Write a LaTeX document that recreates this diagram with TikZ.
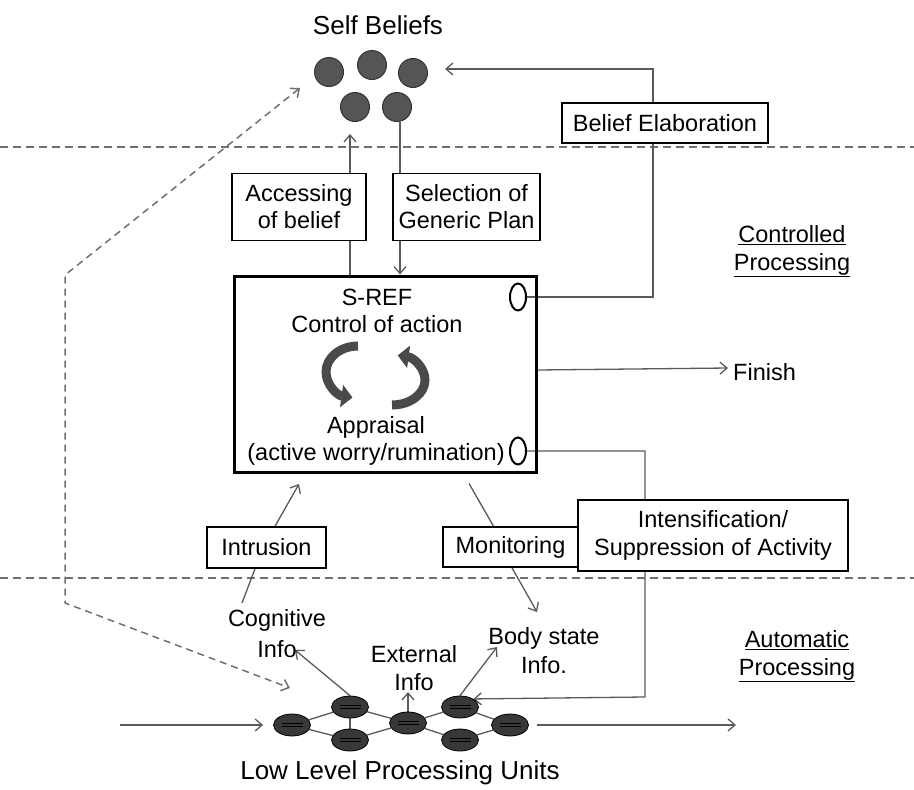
\documentclass[tikz,border=0pt]{standalone}
\usepackage{fontspec}
\setmainfont{Liberation Sans}
\usetikzlibrary{arrows.meta,shapes.geometric}
\pgfdeclarelayer{bg}
\pgfsetlayers{bg,main}
\definecolor{linegray}{HTML}{5A5A5A}
\definecolor{dashgray}{HTML}{707070}
\definecolor{ballfill}{HTML}{555555}
\definecolor{unitfill}{HTML}{383838}
\definecolor{cycgray}{HTML}{4A4A4A}
\tikzset{
 txt/.style={font=\fontsize{23.5}{27}\selectfont, inner sep=0pt, align=center},
 big/.style={font=\fontsize{26}{30}\selectfont},
 box/.style={txt, draw=black, line width=1.6pt, fill=white},
 conn/.style={draw=linegray, line width=1.3pt},
 arr/.style={conn, -{Straight Barb[length=7pt,width=12pt]}},
 dasharr/.style={draw=dashgray, line width=1.5pt, dash pattern=on 7pt off 5pt,
   {Straight Barb[length=7pt,width=12pt]}-{Straight Barb[length=7pt,width=12pt]}},
 sepline/.style={draw=dashgray, line width=1.2pt, dash pattern=on 8pt off 5pt},
 ball/.style={circle, minimum size=29pt, inner sep=0pt, fill=ballfill, draw=black!80, line width=1pt},
 unit/.style={ellipse, minimum width=37pt, minimum height=22pt, inner sep=0pt, fill=unitfill,
   draw=black, line width=0.8pt,
   path picture={
     \draw[black, line width=1pt] ([xshift=8pt,yshift=1.4pt]path picture bounding box.west) -- ([xshift=-8pt,yshift=1.4pt]path picture bounding box.east);
     \draw[black, line width=1pt] ([xshift=8pt,yshift=-1.4pt]path picture bounding box.west) -- ([xshift=-8pt,yshift=-1.4pt]path picture bounding box.east);
   }},
 port/.style={ellipse, minimum width=16pt, minimum height=27pt, inner sep=0pt, draw=black, line width=2pt, fill=white},
 cyc/.style={draw=cycgray, line width=9pt, -{Triangle[length=11pt,width=22pt]}},
}
\begin{document}
\begin{tikzpicture}[x=1pt,y=-1pt]
\useasboundingbox (0,0) rectangle (914,790);

% Self beliefs
\node[txt, big] (selfb) at (378,25) {Self Beliefs};
\node[ball] (b1) at (329,72) {};
\node[ball] (b2) at (372,65) {};
\node[ball] (b3) at (413,73) {};
\node[ball] (b4) at (355,107) {};
\node[ball] (b5) at (397,107) {};

% boxes
\node[box, minimum width=134pt, minimum height=67pt] (acc) at (299,207) {Accessing\\of belief};
\node[box, minimum width=147pt, minimum height=67pt] (sel) at (466.5,207) {Selection of\\Generic Plan};
\node[box, minimum width=206pt, minimum height=40pt] (bel) at (665,123) {Belief Elaboration};

% S-REF
\node[draw=black, line width=3pt, minimum width=302pt, minimum height=196pt, inner sep=0pt] (sref) at (385,374) {};
\node[txt] (ctrl) at (377,311) {S-REF\\Control of action};
\node[txt] (appr) at (376,441) {Appraisal\\(active worry/rumination)};
\node[port] (p1) at (518,297) {};
\node[port] (p2) at (518,451) {};
\draw[cyc] (358,346) arc[start angle=270, end angle=100, x radius=32, y radius=26];
\draw[cyc] (392,405) arc[start angle=90, end angle=-80, x radius=33, y radius=25];

\node[txt, anchor=west] (fin) at (733,372) {Finish};
\node[txt, font=\fontsize{23.5}{28}\selectfont] (cp) at (792,251) {\underline{Controlled}\\\underline{Processing}};
\node[txt, font=\fontsize{23.5}{28}\selectfont] (ap) at (797,656) {\underline{Automatic}\\\underline{Processing}};

\node[box, minimum width=119pt, minimum height=41pt] (intr) at (266.5,547.5) {Intrusion};
\node[box, minimum width=135pt, minimum height=40pt] (mon) at (510.5,547) {Monitoring};
\node[box, minimum width=270pt, minimum height=71pt, font=\fontsize{23.5}{28}\selectfont] (ints) at (713,535.5) {Intensification/\\Suppression of Activity};

\node[txt, font=\fontsize{23.5}{31}\selectfont] (cog) at (277,634) {Cognitive\\Info};
\node[txt, font=\fontsize{23.5}{28}\selectfont] (ext) at (414,668) {External\\Info};
\node[txt, font=\fontsize{23.5}{29}\selectfont] (body) at (544,651) {Body state\\Info.};

% low level units
\node[unit] (u1) at (292,725) {};
\node[unit] (u2) at (350,707) {};
\node[unit] (u3) at (350,740) {};
\node[unit] (u4) at (408,723) {};
\node[unit] (u5) at (460,707) {};
\node[unit] (u6) at (460,740) {};
\node[unit] (u7) at (510,725) {};
\node[txt, big] (llpu) at (400,773) {Low Level Processing Units};

% free coordinates
\coordinate (beTop) at (653,69);
\coordinate (sbIn) at (445,69);
\coordinate (intCorner) at (645,697);
\coordinate (bodyIn) at (537,612);
\coordinate (intrTip) at (299,484);
\coordinate (cogTop) at (242,603);
\coordinate (cogIn) at (295,650);
\coordinate (extIn) at (408,692);
\coordinate (bodyIn2) at (497,647);
\coordinate (inL) at (120,725);
\coordinate (outR) at (736,725);
\coordinate (dTop) at (300,88);
\coordinate (dA) at (65,275);
\coordinate (dB) at (65,603);
\coordinate (dBot) at (290,688);

\begin{pgfonlayer}{bg}
\draw[sepline] (0,147) -- (914,147);
\draw[sepline] (0,578) -- (914,578);
\draw[arr] ([xshift=-35pt]sref.north) -- ([xshift=-5pt,yshift=-12pt]b4.south);
\draw[arr] ([xshift=3pt]b5.south) -- ([xshift=15pt]sref.north);
\draw[arr] (p1.east) -| (beTop) -- (sbIn);
\draw[arr] ([yshift=4pt]sref.east) -- ([xshift=-5pt,yshift=4pt]fin.west);
\draw[arr] (p2.east) -| (intCorner) -- (u5.north east);
\draw[conn] ([xshift=84pt,yshift=-10pt]sref.south) -- ([xshift=-17pt]mon.north);
\draw[arr] ([xshift=1.5pt]mon.south) -- (bodyIn);
\draw[arr] ([xshift=8.5pt]intr.north) -- (intrTip);
\draw[conn] ([xshift=-11.5pt]intr.south) -- (cogTop);
\draw[arr] (u2.north) -- (cogIn);
\draw[arr] (u4.north) -- (extIn);
\draw[arr] (u5.north) -- (bodyIn2);
\draw[conn] (u1) -- (u2);
\draw[conn] (u1) -- (u3);
\draw[conn] (u2) -- (u3);
\draw[conn] (u2) -- (u4);
\draw[conn] (u3) -- (u4);
\draw[conn] (u4) -- (u5);
\draw[conn] (u4) -- (u6);
\draw[conn] (u5) -- (u7);
\draw[conn] (u6) -- (u7);
\draw[arr] (inL) -- ([xshift=-10pt]u1.west);
\draw[arr] ([xshift=8pt]u7.east) -- (outR);
\draw[dasharr] (dTop) -- (dA) -- (dB) -- (dBot);
\end{pgfonlayer}
\end{tikzpicture}
\end{document}
